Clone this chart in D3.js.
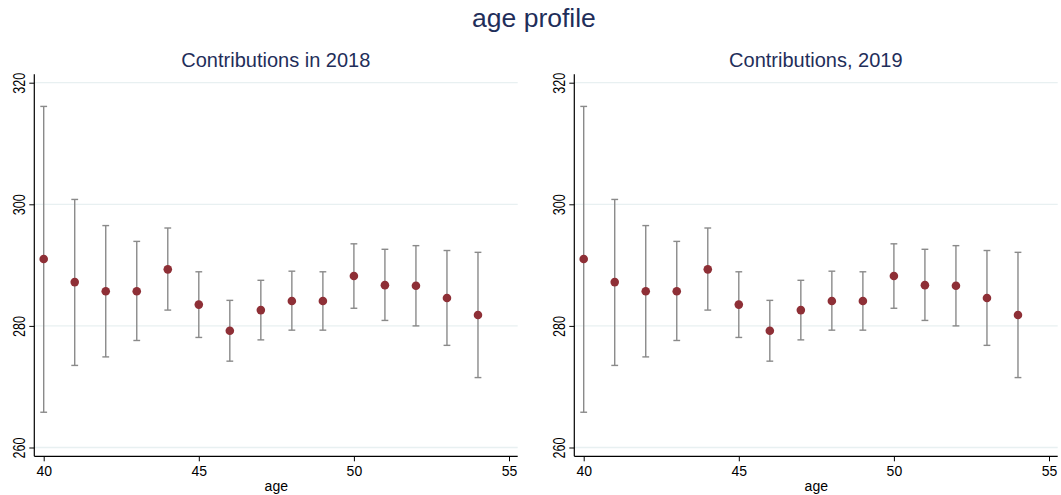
<!DOCTYPE html>
<html>
<head>
<meta charset="utf-8">
<script src="https://cdn.jsdelivr.net/npm/d3@7"></script>
<style>
  html, body { margin: 0; padding: 0; background: #ffffff; }
  svg { display: block; font-family: "Liberation Sans", Arial, sans-serif; }
</style>
</head>
<body>
<svg id="chart" width="1061" height="495"></svg>
<script>
// Mean contributions by age with confidence intervals
const ages = [40, 41, 42, 43, 44, 45, 46, 47, 48, 49, 50, 51, 52, 53, 54];
const means2018 = [291.0, 287.2, 285.7, 285.7, 289.3, 283.5, 279.2, 282.6, 284.1, 284.1, 288.2, 286.7, 286.6, 284.6, 281.8];
const upper2018 = [316.1, 300.8, 296.5, 293.9, 296.1, 288.9, 284.2, 287.5, 289.0, 288.9, 293.5, 292.6, 293.2, 292.4, 292.1];
const lower2018 = [265.8, 273.5, 274.9, 277.6, 282.6, 278.1, 274.2, 277.7, 279.3, 279.3, 282.9, 280.9, 280.0, 276.8, 271.5];
const means2019 = [291.0, 287.2, 285.7, 285.7, 289.3, 283.5, 279.2, 282.6, 284.1, 284.1, 288.2, 286.7, 286.6, 284.6, 281.8];
const upper2019 = [316.1, 300.8, 296.5, 293.9, 296.1, 288.9, 284.2, 287.5, 289.0, 288.9, 293.5, 292.6, 293.2, 292.4, 292.1];
const lower2019 = [265.8, 273.5, 274.9, 277.6, 282.6, 278.1, 274.2, 277.7, 279.3, 279.3, 282.9, 280.9, 280.0, 276.8, 271.5];
const xTicks = [40, 45, 50, 55];
const yTicks = [260, 280, 300, 320];
const panelTitles = ["Contributions in 2018", "Contributions, 2019"];
const mainTitle = "age profile";
const xLabel = "age";

const svg = d3.select("#chart");
const titleColor = "#1f2e5a";
const markerColor = "#8e2f36";
const barColor = "#8a8a8a";
const gridColor = "#e8f0f1";

svg.append("text")
  .attr("x", 534).attr("y", 27)
  .attr("text-anchor", "middle")
  .attr("font-size", 26.5)
  .attr("fill", titleColor)
  .text(mainTitle);

const panels = [
  { left: 34.3, title: panelTitles[0], means: means2018, upper: upper2018, lower: lower2018 },
  { left: 574.3, title: panelTitles[1], means: means2019, upper: upper2019, lower: lower2019 }
];

const plotW = 483.4;
const plotTop = 74.3, plotBottom = 456.3;

const y = d3.scaleLinear().domain([260, 320]).range([447.5, 82.7]);

panels.forEach(p => {
  const g = svg.append("g").attr("transform", `translate(${p.left},0)`);
  const x = d3.scaleLinear().domain([40, 55]).range([9.4, 474.7]);

  // panel title
  g.append("text")
    .attr("x", 241.5).attr("y", 66.7)
    .attr("text-anchor", "middle")
    .attr("font-size", 20)
    .attr("fill", titleColor)
    .text(p.title);

  // horizontal grid lines
  g.append("g").selectAll("line").data(yTicks).join("line")
    .attr("x1", 0).attr("x2", plotW)
    .attr("y1", d => y(d)).attr("y2", d => y(d))
    .attr("stroke", gridColor).attr("stroke-width", 1.3);

  // error bars
  const bars = g.append("g").selectAll("g").data(ages).join("g");
  bars.append("line")
    .attr("x1", d => x(d)).attr("x2", d => x(d))
    .attr("y1", (d, i) => y(p.upper[i])).attr("y2", (d, i) => y(p.lower[i]))
    .attr("stroke", barColor).attr("stroke-width", 1.4);
  bars.append("line")
    .attr("x1", d => x(d) - 3.4).attr("x2", d => x(d) + 3.4)
    .attr("y1", (d, i) => y(p.upper[i])).attr("y2", (d, i) => y(p.upper[i]))
    .attr("stroke", barColor).attr("stroke-width", 1.4);
  bars.append("line")
    .attr("x1", d => x(d) - 3.4).attr("x2", d => x(d) + 3.4)
    .attr("y1", (d, i) => y(p.lower[i])).attr("y2", (d, i) => y(p.lower[i]))
    .attr("stroke", barColor).attr("stroke-width", 1.4);

  // means
  g.append("g").selectAll("circle").data(ages).join("circle")
    .attr("cx", d => x(d))
    .attr("cy", (d, i) => y(p.means[i]))
    .attr("r", 4.3)
    .attr("fill", markerColor);

  // y axis
  const yAxis = d3.axisLeft(y).tickValues(yTicks).tickSize(5).tickPadding(3).tickFormat(d3.format("d"));
  const ya = g.append("g").call(yAxis);
  ya.select(".domain").remove();
  ya.selectAll(".tick line").attr("stroke", "#000").attr("stroke-width", 1);
  ya.selectAll(".tick text")
    .attr("x", null).attr("dy", null)
    .attr("text-anchor", "middle")
    .attr("font-size", 14)
    .attr("font-family", "Liberation Sans, Arial, sans-serif")
    .attr("fill", "#000")
    .attr("transform", "translate(-9.5,0) rotate(-90) scale(0.9,1.22)");
  g.append("line")
    .attr("x1", 0).attr("x2", 0)
    .attr("y1", plotTop).attr("y2", plotBottom)
    .attr("stroke", "#000").attr("stroke-width", 1.2);

  // x axis
  const xAxis = d3.axisBottom(x).tickValues(xTicks).tickSize(5).tickPadding(5).tickFormat(d3.format("d"));
  const xa = g.append("g").attr("transform", `translate(0,${plotBottom})`).call(xAxis);
  xa.select(".domain").remove();
  xa.selectAll(".tick line").attr("stroke", "#000").attr("stroke-width", 1);
  xa.selectAll(".tick text")
    .attr("font-size", 14)
    .attr("font-family", "Liberation Sans, Arial, sans-serif")
    .attr("fill", "#000");
  g.append("line")
    .attr("x1", 0).attr("x2", plotW)
    .attr("y1", plotBottom).attr("y2", plotBottom)
    .attr("stroke", "#000").attr("stroke-width", 1.2);

  g.append("text")
    .attr("x", 242).attr("y", 491)
    .attr("text-anchor", "middle")
    .attr("font-size", 14)
    .attr("fill", "#000")
    .text(xLabel);
});
</script>
</body>
</html>
